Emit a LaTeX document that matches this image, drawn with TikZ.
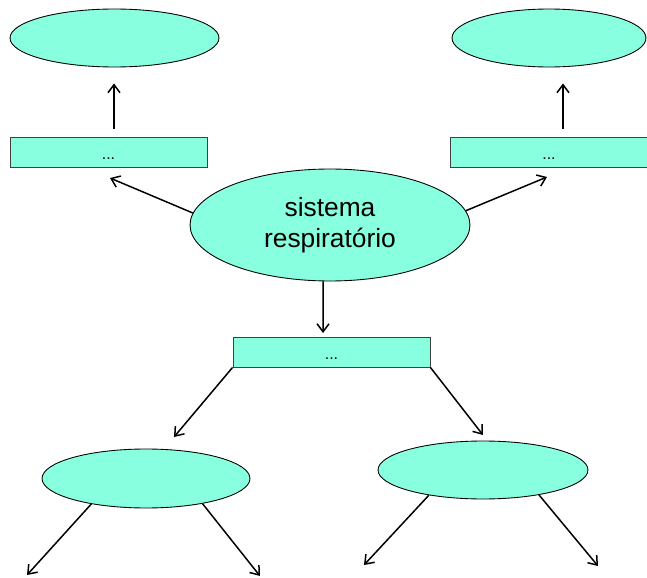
\documentclass[tikz,border=0pt]{standalone}
\usepackage{fontspec}
\setmainfont{Liberation Sans}
\usetikzlibrary{shapes.geometric,arrows.meta}
\definecolor{mapfill}{HTML}{88FFDF}
\begin{document}
\begin{tikzpicture}[x=0.02cm,y=-0.02cm,
        topic/.style={ellipse, draw=black, line width=0.5pt, fill=mapfill, inner sep=0pt},
        linkbox/.style={rectangle, draw=black!75, line width=0.5pt, fill=mapfill, inner sep=0pt,
            minimum width=3.94cm, minimum height=0.6cm, font=\fontsize{9}{11}\selectfont,
            text height=9pt, text depth=0pt},
        arr/.style={-{Straight Barb[length=1.6mm,width=2.4mm]}, line width=0.85pt}]
    \useasboundingbox (0,0) rectangle (647,578);
    \node[topic, minimum width=4.18cm, minimum height=1.16cm] (topL) at (114.5,38) {};
    \node[topic, minimum width=3.88cm, minimum height=1.16cm] (topR) at (549,38) {};
    \node[linkbox] (boxL) at (108.5,152) {...};
    \node[linkbox] (boxR) at (549,152) {...};
    \node[topic, minimum width=5.6cm, minimum height=2.24cm, align=center,
        font=\fontsize{15}{18}\selectfont] (resp) at (330,225) {sistema\\respiratório};
    \node[linkbox] (boxM) at (331.5,352) {...};
    \node[topic, minimum width=4.16cm, minimum height=1.18cm] (botL) at (146,478.5) {};
    \node[topic, minimum width=4.2cm, minimum height=1.16cm] (botR) at (483,470) {};
    % free arrow ends
    \coordinate (tipL) at (110,178);
    \coordinate (tipR) at (547,177);
    \coordinate (tipM) at (323,333);
    \coordinate (tipML) at (174,437);
    \coordinate (tipMR) at (483,435);
    \coordinate (tipA) at (27,575);
    \coordinate (tipB) at (260,576);
    \coordinate (tipC) at (364,565);
    \coordinate (tipD) at (598,566);
    \draw[arr, shorten <=1.6mm, shorten >=3.2mm] (boxL.north -| 114,0) -- (topL.south -| 114,0);
    \draw[arr, shorten <=1.6mm, shorten >=3.2mm] (boxR.north -| 563,0) -- (topR.south -| 563,0);
    \draw[arr] (resp.175) -- (tipL);
    \draw[arr] (resp.6) -- (tipR);
    \draw[arr] (resp.263) -- (tipM);
    \draw[arr] (boxM.south west) -- (tipML);
    \draw[arr] (boxM.south east) -- (tipMR);
    \draw[arr] (botL.205) -- (tipA);
    \draw[arr] (botL.336) -- (tipB);
    \draw[arr] (botR.205) -- (tipC);
    \draw[arr] (botR.336) -- (tipD);
\end{tikzpicture}
\end{document}
